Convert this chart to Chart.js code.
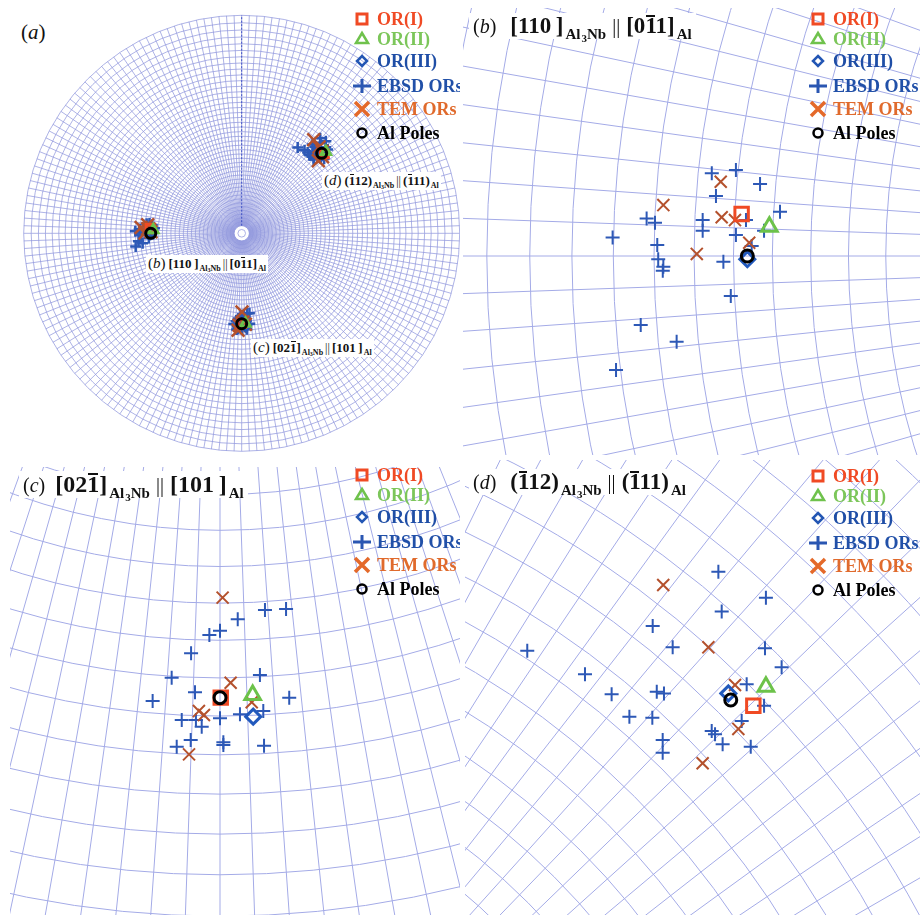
<!DOCTYPE html>
<html lang="en">
<head>
<meta charset="UTF-8">
<title>Al3Nb / Al orientation relationships</title>
<script src="https://cdn.jsdelivr.net/npm/chart.js"></script>
<style>
  body { margin: 0; background: #fff; }
  #fig { position: relative; width: 920px; height: 915px; overflow: hidden; font-family: 'Liberation Serif', 'Times New Roman', serif; }
  canvas { position: absolute; }
  .ttl { position: absolute; background: #fff; white-space: nowrap; color: #111; font-weight: bold; font-size: 23px; line-height: 26px; padding: 0 4px; }
  .ttl .tag { font-weight: normal; font-size: 20px; margin-right: 14px; }
  .ttl sub { font-size: 15px; vertical-align: -6px; line-height: 0; margin-left: 2px; }
  .ttl sub sub { font-size: 11px; vertical-align: -3px; margin-left: 1px; }
  .ttl .pp { font-weight: normal; font-size: 20px; margin: 0 6px; }
  .ttl.sm { font-size: 13px; line-height: 17px; padding: 0 2px; }
  .ttl.sm .tag { font-size: 15px; margin-right: 3px; }
  .ttl.sm sub { font-size: 8px; vertical-align: -3px; margin-left: 1px; }
  .ttl.sm sub sub { font-size: 6px; vertical-align: -1px; margin-left: 0; }
  .ttl.sm .pp { font-size: 12px; margin: 0 2px; }
  .ov { position: relative; }
  .ov::before { content: ''; position: absolute; left: 1px; right: 1px; top: 0.1em; border-top: 2px solid #111; }
  .sm .ov::before { border-top-width: 1px; }
</style>
</head>
<body>
<div id="fig">
  <canvas id="chartA"></canvas>
  <canvas id="chartB"></canvas>
  <canvas id="chartC"></canvas>
  <canvas id="chartD"></canvas>

  <div class="ttl" style="left:21px;top:19px;padding:0"><span class="tag" style="font-size:21px">(<i>a</i>)</span></div>
  <div class="ttl" style="left:469px;top:13px"><span class="tag">(<i>b</i>)</span>[110&thinsp;]<sub>Al<sub>3</sub>Nb</sub><span class="pp">||</span>[0<span class="ov">1</span>1]<sub>Al</sub></div>
  <div class="ttl" style="left:19px;top:471px;font-size:24px"><span class="tag" style="margin-right:10px">(<i>c</i>)</span>[02<span class="ov">1</span>]<sub>Al<sub>3</sub>Nb</sub><span class="pp">||</span>[101&thinsp;]<sub>Al</sub></div>
  <div class="ttl" style="left:469px;top:469px"><span class="tag">(<i>d</i>)</span>(<span class="ov">1</span>12)<sub>Al<sub>3</sub>Nb</sub><span class="pp">||</span>(<span class="ov">1</span>11)<sub>Al</sub></div>

  <div class="ttl sm" style="left:322px;top:172px"><span class="tag">(<i>d</i>)</span>(<span class="ov">1</span>12)<sub>Al<sub>3</sub>Nb</sub><span class="pp">||</span>(<span class="ov">1</span>11)<sub>Al</sub></div>
  <div class="ttl sm" style="left:146px;top:255px"><span class="tag">(<i>b</i>)</span>[110&thinsp;]<sub>Al<sub>3</sub>Nb</sub><span class="pp">||</span>[0<span class="ov">1</span>1]<sub>Al</sub></div>
  <div class="ttl sm" style="left:251px;top:339px"><span class="tag">(<i>c</i>)</span>[02<span class="ov">1</span>]<sub>Al<sub>3</sub>Nb</sub><span class="pp">||</span>[101&thinsp;]<sub>Al</sub></div>
</div>
<script>
  // stereographic coordinates (unit = primitive circle radius)
  // pole (b) cluster
  const ebsdB = [[-0.4359, 0.0435], [-0.4232, 0.0453], [-0.4105, 0.0379], [-0.4337, 0.0316], [-0.4000, 0.0233],
    [-0.4702, 0.0198], [-0.4658, 0.0175], [-0.4407, 0.0189], [-0.4407, 0.0133], [-0.4179, 0.0189],
    [-0.4232, 0.0111], [-0.4084, 0.0133], [-0.4881, 0.0098], [-0.4646, 0.0058], [-0.4641, -0.0017],
    [-0.4614, -0.0056], [-0.4617, -0.0077], [-0.4298, -0.0030], [-0.4149, 0.0053], [-0.4259, -0.0211],
    [-0.4733, -0.0363], [-0.4544, -0.0451], [-0.4863, -0.0600]];
  const temB = [[-0.4312, 0.0391], [-0.4614, 0.0268], [-0.4307, 0.0204], [-0.4237, 0.0189], [-0.4162, 0.0070], [-0.4438, 0.0011]];
  // pole (c) cluster
  const ebsdC = [[0.0241, -0.3676], [0.0354, -0.3671], [0.0095, -0.3726], [-0.0057, -0.3810], [0.0000, -0.3787],
    [-0.0155, -0.3908], [-0.0259, -0.4039], [0.0214, -0.4025], [-0.0134, -0.4117], [-0.0361, -0.4164],
    [0.0371, -0.4146], [-0.0205, -0.4266], [-0.0129, -0.4266], [-0.0098, -0.4302], [0.0000, -0.4257],
    [0.0107, -0.4235], [0.0232, -0.4218], [-0.0157, -0.4373], [-0.0232, -0.4409], [0.0018, -0.4385],
    [0.0018, -0.4400], [0.0236, -0.4404]];
  const temC = [[0.0014, -0.3610], [0.0057, -0.4066], [-0.0113, -0.4218], [-0.0086, -0.4239], [0.0170, -0.4171], [-0.0166, -0.4450]];
  // pole (d) cluster
  const ebsdD = [[0.3602, 0.4364], [0.3859, 0.4223], [0.3620, 0.4148], [0.3247, 0.4070], [0.3355, 0.3955],
    [0.2569, 0.3937], [0.3854, 0.3950], [0.3944, 0.3847], [0.2881, 0.3809], [0.3025, 0.3701],
    [0.3269, 0.3715], [0.3308, 0.3706], [0.3755, 0.3755], [0.3121, 0.3580], [0.3245, 0.3575],
    [0.3849, 0.3639], [0.3728, 0.3557], [0.3566, 0.3503], [0.3584, 0.3485], [0.3301, 0.3454],
    [0.3301, 0.3385], [0.3625, 0.3431], [0.3777, 0.3418]];
  const temD = [[0.3304, 0.4292], [0.3548, 0.3955], [0.3692, 0.3751], [0.3710, 0.3514], [0.3517, 0.3328]];
  // calculated ORs and Al poles, one per pole (b, c, d)
  const orI = [[-0.4202, 0.0221], [0.0004, -0.4146], [0.3791, 0.3639]];
  const orII = [[-0.4056, 0.0154], [0.0175, -0.4132], [0.3859, 0.3742]];
  const orIII = [[-0.4172, -0.0017], [0.0178, -0.4248], [0.3656, 0.3706]];
  const alPoles = [[-0.4172, 0.0000], [0.0000, -0.4146], [0.3669, 0.3670]];

  const legendLabels = ['OR(I)', 'OR(II)', 'OR(III)', 'EBSD ORs', 'TEM ORs', 'Al Poles'];

  // page placement of each panel and where the net origin sits on the page
  const views = {
    A: { left: 0, top: 0, width: 460, height: 455, ox: 241.7, oy: 233.3, scale: 218, legend: [362, 19] },
    B: { left: 463, top: 8, width: 457, height: 447, ox: 1540, oy: 256, scale: 1900, legend: [818, 19] },
    C: { left: 10, top: 467, width: 450, height: 448, ox: 220, oy: -76, scale: 1866, legend: [362, 475] },
    D: { left: 465, top: 460, width: 455, height: 455, ox: 52, oy: 1379, scale: 1850, legend: [818, 476] }
  };

  const DEG = Math.PI / 180;
  const pts = arr => arr.map(p => ({ x: p[0], y: p[1] }));

  // Wulff-type polar net: circles every 2 deg of polar angle, radii every 2 deg of azimuth
  const netPlugin = {
    id: 'net',
    beforeDatasetsDraw(chart, args, o) {
      const { ctx, chartArea: a } = chart;
      const sx = chart.scales.x, sy = chart.scales.y;
      const ox = sx.getPixelForValue(0), oy = sy.getPixelForValue(0);
      const unit = sx.getPixelForValue(1) - ox;
      ctx.save();
      ctx.beginPath();
      ctx.rect(a.left, a.top, a.right - a.left, a.bottom - a.top);
      ctx.clip();
      ctx.strokeStyle = o.color;
      ctx.lineWidth = o.width;
      ctx.beginPath();
      for (let k = 1; k <= 45; k++) {
        const r = unit * Math.tan(k * DEG);
        ctx.moveTo(ox + r, oy);
        ctx.arc(ox, oy, r, 0, 2 * Math.PI);
      }
      const r0 = unit * Math.tan(2 * DEG);
      for (let az = 0; az < 360; az += 2) {
        const c = Math.cos(az * DEG), s = Math.sin(az * DEG);
        ctx.moveTo(ox + r0 * c, oy - r0 * s);
        ctx.lineTo(ox + unit * c, oy - unit * s);
      }
      ctx.stroke();
      if (o.axis) {
        ctx.strokeStyle = '#3d4fc4';
        ctx.lineWidth = 1;
        ctx.setLineDash([2, 1.5]);
        ctx.beginPath();
        ctx.moveTo(ox, oy - r0);
        ctx.lineTo(ox, oy - unit);
        ctx.stroke();
      }
      ctx.restore();
    }
  };

  const icons = [
    { shape: 'square', color: '#f04a24', text: '#f04a24' },
    { shape: 'triangle', color: '#6fc24c', text: '#7cc65a' },
    { shape: 'diamond', color: '#2356b4', text: '#1f4ea6' },
    { shape: 'plus', color: '#2a56b2', text: '#2150a8' },
    { shape: 'x', color: '#e4692a', text: '#e06a2c' },
    { shape: 'circle', color: '#000', text: '#000' }
  ];
  const rowOffsets = [0, 20, 42, 67, 90, 114];

  function drawIcon(ctx, shape, x, y) {
    ctx.beginPath();
    if (shape === 'square') { ctx.lineWidth = 3; ctx.rect(x - 5, y - 5, 10, 10); }
    if (shape === 'triangle') { ctx.lineWidth = 2.5; ctx.moveTo(x, y - 6); ctx.lineTo(x + 6, y + 4); ctx.lineTo(x - 6, y + 4); ctx.closePath(); }
    if (shape === 'diamond') { ctx.lineWidth = 2.5; ctx.moveTo(x, y - 5); ctx.lineTo(x + 5, y); ctx.lineTo(x, y + 5); ctx.lineTo(x - 5, y); ctx.closePath(); }
    if (shape === 'plus') { ctx.lineWidth = 3; ctx.moveTo(x - 9, y); ctx.lineTo(x + 9, y); ctx.moveTo(x, y - 7); ctx.lineTo(x, y + 7); }
    if (shape === 'x') { ctx.lineWidth = 3.5; ctx.moveTo(x - 7, y - 7); ctx.lineTo(x + 7, y + 7); ctx.moveTo(x + 7, y - 7); ctx.lineTo(x - 7, y + 7); }
    if (shape === 'circle') { ctx.lineWidth = 2.5; ctx.arc(x, y, 4.5, 0, 2 * Math.PI); }
    ctx.stroke();
  }

  const legendPlugin = {
    id: 'orLegend',
    afterDatasetsDraw(chart, args, o) {
      const ctx = chart.ctx;
      ctx.save();
      ctx.font = 'bold 18px "Liberation Serif", serif';
      ctx.textBaseline = 'middle';
      legendLabels.forEach((label, i) => {
        const x = o.x, y = o.y + rowOffsets[i];
        ctx.strokeStyle = icons[i].color;
        drawIcon(ctx, icons[i].shape, x, y);
        ctx.fillStyle = icons[i].text;
        ctx.fillText(label, x + 15, y + 1);
      });
      ctx.restore();
    }
  };

  function dataset(label, data, style, size, width, color, order) {
    return {
      label, data: pts(data), order, showLine: false,
      pointStyle: style, pointRadius: size, pointHoverRadius: size,
      pointBorderWidth: width, pointHoverBorderWidth: width,
      pointBorderColor: color, pointBackgroundColor: 'rgba(0,0,0,0)'
    };
  }

  function makeChart(id, v, big) {
    const canvas = document.getElementById(id);
    canvas.width = v.width;
    canvas.height = v.height;
    canvas.style.left = v.left + 'px';
    canvas.style.top = v.top + 'px';
    new Chart(canvas, {
      type: 'scatter',
      data: {
        datasets: [
          dataset('EBSD ORs', [...ebsdB, ...ebsdC, ...ebsdD], 'cross', big ? 7 : 5.5, big ? 2 : 2.5, '#2d58b6', 6),
          dataset('TEM ORs', [...temB, ...temC, ...temD], 'crossRot', big ? 8.5 : 9, big ? 2 : 2.5, '#b4512d', 5),
          dataset('OR(III)', orIII, 'rectRot', big ? 7.5 : 5, 3, '#2159bd', 4),
          dataset('OR(I)', orI, 'rect', big ? 9.5 : 5.5, 3, '#f04a24', 3),
          dataset('OR(II)', orII, 'triangle', big ? 9 : 5.5, 3, '#6cc24a', 2),
          dataset('Al Poles', alPoles, 'circle', big ? 6 : 5, 3, '#000', 1)
        ]
      },
      options: {
        responsive: false,
        animation: false,
        events: [],
        layout: { padding: 0, autoPadding: false },
        scales: {
          x: { type: 'linear', display: false, min: (v.left - v.ox) / v.scale, max: (v.left + v.width - v.ox) / v.scale },
          y: { type: 'linear', display: false, min: (v.oy - v.top - v.height) / v.scale, max: (v.oy - v.top) / v.scale }
        },
        plugins: {
          legend: { display: false },
          tooltip: { enabled: false },
          net: big ? { color: '#a4abe7', width: 1, axis: false } : { color: '#939ade', width: 0.75, axis: true },
          orLegend: { x: v.legend[0] - v.left, y: v.legend[1] - v.top }
        }
      },
      plugins: [netPlugin, legendPlugin]
    });
  }

  makeChart('chartA', views.A, false);
  makeChart('chartB', views.B, true);
  makeChart('chartC', views.C, true);
  makeChart('chartD', views.D, true);
</script>
</body>
</html>
